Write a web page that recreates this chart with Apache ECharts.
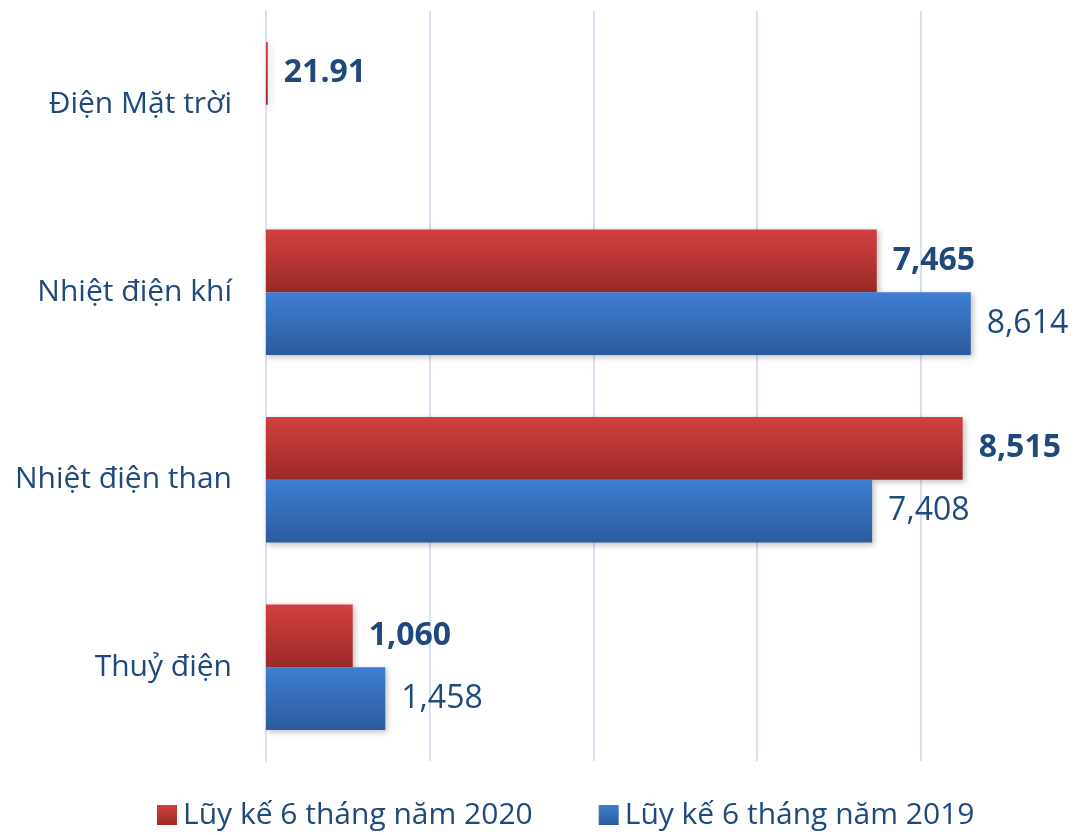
<!DOCTYPE html>
<html>
<head>
<meta charset="utf-8">
<script src="https://cdn.jsdelivr.net/npm/echarts@6/dist/echarts.min.js"></script>
<style>html,body{margin:0;padding:0;background:#fff}#c{width:1076px;height:835px}</style>
</head>
<body>
<div id="c"></div>
<script>
const categories = ["Điện Mặt trời", "Nhiệt điện khí", "Nhiệt điện than", "Thuỷ điện"];
const seriesNames = ["Lũy kế 6 tháng năm 2020", "Lũy kế 6 tháng năm 2019"];
const values2020 = [21.91, 7465, 8515, 1060];
const values2019 = [null, 8614, 7408, 1458];

const FONT = "'Open Sans', Lato, sans-serif";
const TXT = "#1F497D";

function grad(top, bottom) {
  return new echarts.graphic.LinearGradient(0, 0, 0, 1, [
    {offset: 0, color: top}, {offset: 1, color: bottom}
  ]);
}
function fmt(v) {
  if (v == null) return "";
  if (v < 100) return v.toFixed(2);
  return Math.round(v).toLocaleString("en-US");
}

const chart = echarts.init(document.getElementById("c"), null, {renderer: "canvas"});
chart.setOption({
  animation: false,
  backgroundColor: "#ffffff",
  grid: {left: 266, top: 11, right: 0, bottom: 74, containLabel: false},
  legend: {
    bottom: 0, left: 152, itemGap: 66, itemWidth: 20, itemHeight: 20,
    textStyle: {fontFamily: FONT, fontSize: 30, color: TXT, padding: [0, 0, 0, 1]},
    data: [
      {name: seriesNames[0], icon: "rect", itemStyle: {color: grad("#D24040", "#9A2A27")}},
      {name: seriesNames[1], icon: "rect", itemStyle: {color: grad("#3E7ED2", "#2C5B9C")}}
    ]
  },
  xAxis: {
    type: "value", min: 0, max: 9900, interval: 2000,
    axisLabel: {show: false}, axisTick: {show: false}, axisLine: {show: false},
    splitLine: {show: true, showMaxLine: false, lineStyle: {color: "#D5E1F0", width: 2}}
  },
  yAxis: {
    type: "category", inverse: true, data: categories,
    axisTick: {show: false},
    axisLine: {show: true, lineStyle: {color: "#D5E1F0", width: 2}},
    axisLabel: {fontFamily: FONT, fontSize: 30, color: TXT, margin: 34}
  },
  series: [
    {
      name: seriesNames[0], type: "bar", data: values2020,
      barGap: "0%", barCategoryGap: "33%",
      itemStyle: {color: grad("#D24040", "#9A2A27"), shadowColor: "rgba(0,0,0,0.25)", shadowBlur: 6, shadowOffsetX: 2, shadowOffsetY: 2},
      label: {show: true, position: "right", distance: 16, formatter: p => fmt(p.value),
        fontFamily: FONT, fontSize: 32, fontWeight: "bold", color: TXT}
    },
    {
      name: seriesNames[1], type: "bar", data: values2019,
      barGap: "0%", barCategoryGap: "33%",
      itemStyle: {color: grad("#3E7ED2", "#2C5B9C"), shadowColor: "rgba(0,0,0,0.25)", shadowBlur: 6, shadowOffsetX: 2, shadowOffsetY: 2},
      label: {show: true, position: "right", distance: 16, formatter: p => fmt(p.value),
        fontFamily: FONT, fontSize: 32, color: TXT}
    }
  ]
});
</script>
</body>
</html>
